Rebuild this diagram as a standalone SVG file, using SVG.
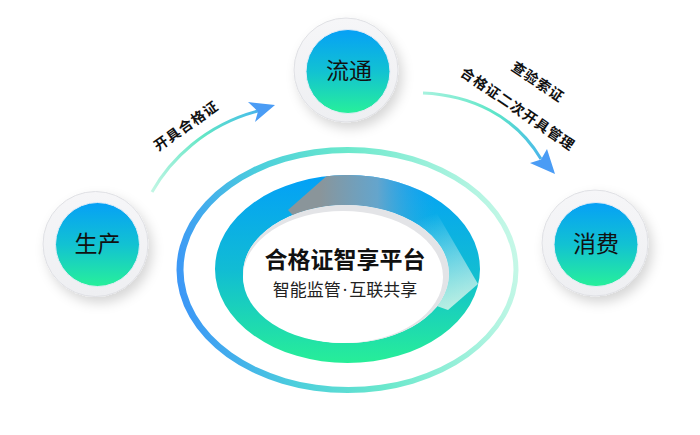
<svg xmlns="http://www.w3.org/2000/svg" width="700" height="435" viewBox="0 0 700 435">
<style>
.lbl{font-family:"Noto Sans CJK SC","Noto Sans",sans-serif;font-size:23px;fill:#111;text-anchor:middle}
.alb{font-family:"Noto Sans CJK SC","Noto Sans",sans-serif;font-size:14px;font-weight:bold;fill:#111;text-anchor:middle;letter-spacing:1px}
.disc{fill:url(#discG);stroke:#dfe0e4;stroke-width:1;filter:url(#sh)}
.core{fill:url(#coreG);stroke:#e4ecf6;stroke-width:1}
</style>
<defs>
<filter id="sh" x="-40%" y="-40%" width="180%" height="180%">
<feDropShadow dx="4" dy="6" stdDeviation="6" flood-color="#000" flood-opacity="0.16"/>
</filter>
<linearGradient id="discG" x1="0" y1="0" x2="0" y2="1">
<stop offset="0" stop-color="#f6f6f8"/><stop offset="1" stop-color="#eeeff2"/>
</linearGradient>
<linearGradient id="coreG" x1="0" y1="0" x2="0" y2="1">
<stop offset="0" stop-color="#06a0f6"/><stop offset="0.5" stop-color="#12c2d2"/><stop offset="1" stop-color="#27f09a"/>
</linearGradient>
<linearGradient id="ringG" gradientUnits="userSpaceOnUse" x1="0" y1="175" x2="0" y2="363">
<stop offset="0" stop-color="#03a0f7"/><stop offset="0.5" stop-color="#11bcd4"/><stop offset="1" stop-color="#27ee98"/>
</linearGradient>
<linearGradient id="thinG" gradientUnits="userSpaceOnUse" x1="176" y1="300" x2="519" y2="240">
<stop offset="0" stop-color="#3b94f8"/><stop offset="0.3" stop-color="#4ccfdc"/><stop offset="0.55" stop-color="#6ae8cc"/><stop offset="1" stop-color="#c8f8e8"/>
</linearGradient>
<linearGradient id="wedgeG" gradientUnits="userSpaceOnUse" x1="320" y1="190" x2="435" y2="190">
<stop offset="0" stop-color="#8a959a"/><stop offset="0.5" stop-color="#6fa5c8" stop-opacity="0.9"/><stop offset="1" stop-color="#2aa6ec" stop-opacity="0"/>
</linearGradient>
<linearGradient id="stripG" gradientUnits="userSpaceOnUse" x1="430" y1="215" x2="462" y2="305">
<stop offset="0" stop-color="#ffffff" stop-opacity="0"/><stop offset="1" stop-color="#e2f5ee" stop-opacity="0.8"/>
</linearGradient>
<linearGradient id="a1G" gradientUnits="userSpaceOnUse" x1="152" y1="192" x2="275" y2="105">
<stop offset="0" stop-color="#c2f6e4"/><stop offset="0.5" stop-color="#62e6c6"/><stop offset="0.8" stop-color="#4cc6e2"/><stop offset="1" stop-color="#4a98f6"/>
</linearGradient>
<linearGradient id="a2G" gradientUnits="userSpaceOnUse" x1="423" y1="93" x2="555" y2="175">
<stop offset="0" stop-color="#a6f2de"/><stop offset="0.45" stop-color="#5ee6c8"/><stop offset="0.8" stop-color="#4cc0e4"/><stop offset="1" stop-color="#4a98f6"/>
</linearGradient>
<clipPath id="ringClip">
<path clip-rule="evenodd" d="M215,269 a132.5,94 0 1,0 265,0 a132.5,94 0 1,0 -265,0 Z M243,274 a103,69 0 1,0 206,0 a103,69 0 1,0 -206,0 Z"/>
</clipPath>
</defs>
<rect width="700" height="435" fill="#fff"/>

<g id="platform">
<path fill="url(#thinG)" fill-rule="evenodd" d="M176.5,270 a171,123 0 1,0 342,0 a171,123 0 1,0 -342,0 Z M183.5,270 a165,117 0 1,0 330,0 a165,117 0 1,0 -330,0 Z"/>
<path fill="url(#ringG)" fill-rule="evenodd" d="M215,269 a132.5,94 0 1,0 265,0 a132.5,94 0 1,0 -265,0 Z M243,274 a103,69 0 1,0 206,0 a103,69 0 1,0 -206,0 Z"/>
<g clip-path="url(#ringClip)">
<polygon fill="url(#wedgeG)" points="288,210 338,166 440,166 440,240 346,274"/>
<polygon fill="url(#stripG)" points="418,205 428,198 478,284 448,310 346,274"/>
</g>
<ellipse cx="346" cy="274" rx="103" ry="69" fill="#e3e4e7"/>
<ellipse cx="343" cy="277" rx="100" ry="66" fill="#fff"/>
<text x="345" y="268" font-family="'Noto Sans CJK SC','Noto Sans',sans-serif" font-size="23" font-weight="bold" fill="#111" text-anchor="middle">合格证智享平台</text>
<text x="345" y="296" font-family="'Noto Sans CJK SC','Noto Sans',sans-serif" font-size="17" fill="#222" text-anchor="middle">智能监管<tspan dx="2" font-family="'Noto Sans',sans-serif">·</tspan><tspan dx="2">互联共享</tspan></text>
</g>

<g id="connectors">
<path d="M152,192 C170,160 205,125 258,111" fill="none" stroke="url(#a1G)" stroke-width="3"/>
<polygon points="275,105 248,102 258,111.5 255,122" fill="#4a9cf5"/>
<path d="M423,93 C470,95 515,115 541,159" fill="none" stroke="url(#a2G)" stroke-width="3"/>
<polygon points="555,174 530,163 541,159.5 547,149" fill="#4a9cf5"/>
<text class="alb" transform="translate(189,130) rotate(-35)">开具合格证</text>
<text class="alb" transform="translate(535,86) rotate(34)">查验索证</text>
<text class="alb" transform="translate(515,113) rotate(34.5)">合格证二次开具管理</text>
</g>

<g id="node-liutong">
<circle class="disc" cx="346" cy="70" r="52"/>
<circle class="core" cx="348" cy="71.5" r="42"/>
<text class="lbl" x="349" y="79">流通</text>
</g>
<g id="node-shengchan">
<circle class="disc" cx="95.5" cy="244" r="52.5"/>
<circle class="core" cx="97.5" cy="244.5" r="42"/>
<text class="lbl" x="97.5" y="252">生产</text>
</g>
<g id="node-xiaofei">
<circle class="disc" cx="595" cy="243" r="53"/>
<circle class="core" cx="596" cy="244.5" r="42"/>
<text class="lbl" x="596" y="252">消费</text>
</g>
</svg>
